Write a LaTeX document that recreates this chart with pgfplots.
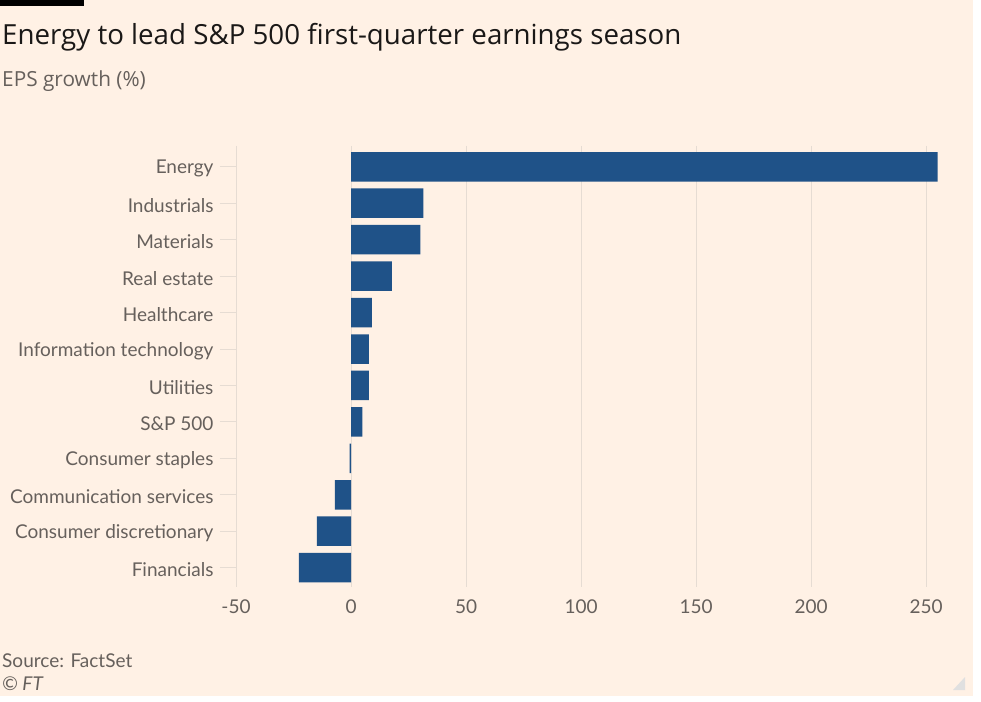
\documentclass[border=0pt]{standalone}
\usepackage{fontspec}
\setmainfont{Lato}
\newfontfamily\titlefont{Open Sans}
\usepackage{pgfplots}
\pgfplotsset{compat=1.18}
\definecolor{ftbg}{HTML}{FFF1E5}
\definecolor{ftbar}{HTML}{1F5288}
\definecolor{ftgrid}{HTML}{E6DCD3}
\definecolor{fttext}{HTML}{66605C}
\definecolor{fttitle}{HTML}{1A1817}
\begin{document}
\begin{tikzpicture}[x=1pt,y=1pt]
\fill[white] (0,0) rectangle (981,701);
\fill[ftbg] (0,5) rectangle (973,701);
\fill[black] (0,695) rectangle (84,701);
\fill[black!12] (953,11) -- (965,11) -- (965,24) -- cycle;
\node[anchor=base west, inner sep=0, font=\titlefont\fontsize{27.7}{32}\selectfont, text=fttitle] at (2,656) {Energy to lead S\&P 500 first-quarter earnings season};
\node[anchor=base west, inner sep=0, font=\titlefont\fontsize{20.8}{25}\selectfont, text=fttext] at (2,614) {EPS growth (\%)};
\node[anchor=base west, inner sep=0, font=\fontsize{19}{23}\selectfont, text=fttext] at (2,34) {Source: FactSet};
\node[anchor=base west, inner sep=0, font=\fontsize{19}{23}\selectfont\itshape, text=fttext] at (2,11) {\textcopyright{} FT};
\begin{axis}[
  at={(236pt,114pt)}, anchor=south west, scale only axis,
  width=704pt, height=441pt,
  xmin=-50, xmax=256, ymin=-0.57, ymax=11.53, y dir=reverse,
  xbar, bar width=29.5pt, bar shift=0pt,
  axis line style={draw=none},
  xtick={-50,0,50,100,150,200,250},
  xmajorgrids, major grid style={ftgrid, line width=1pt},
  ytick={0,1,2,3,4,5,6,7,8,9,10,11},
  yticklabels={Energy,Industrials,Materials,Real estate,Healthcare,Information technology,Utilities,S\&P 500,Consumer staples,Communication services,Consumer discretionary,Financials},
  ytick pos=left,
  tick align=outside,
  major tick length=16pt,
  tick style={ftgrid, line width=1pt},
  major x tick style={draw=none},
  ticklabel style={font=\fontsize{19}{23}\selectfont, text=fttext},
  yticklabel style={xshift=-3pt, yshift=-2pt},
  xticklabel style={yshift=7pt},
  /pgf/number format/assume math mode=true,
  clip=false,
]
\addplot[fill=ftbar, draw=none] coordinates {
(255,0) (31.4,1) (30.1,2) (17.7,3) (9.1,4) (7.7,5) (7.8,6) (4.9,7) (-0.6,8) (-7.0,9) (-14.9,10) (-22.7,11)};
\end{axis}
\end{tikzpicture}
\end{document}
